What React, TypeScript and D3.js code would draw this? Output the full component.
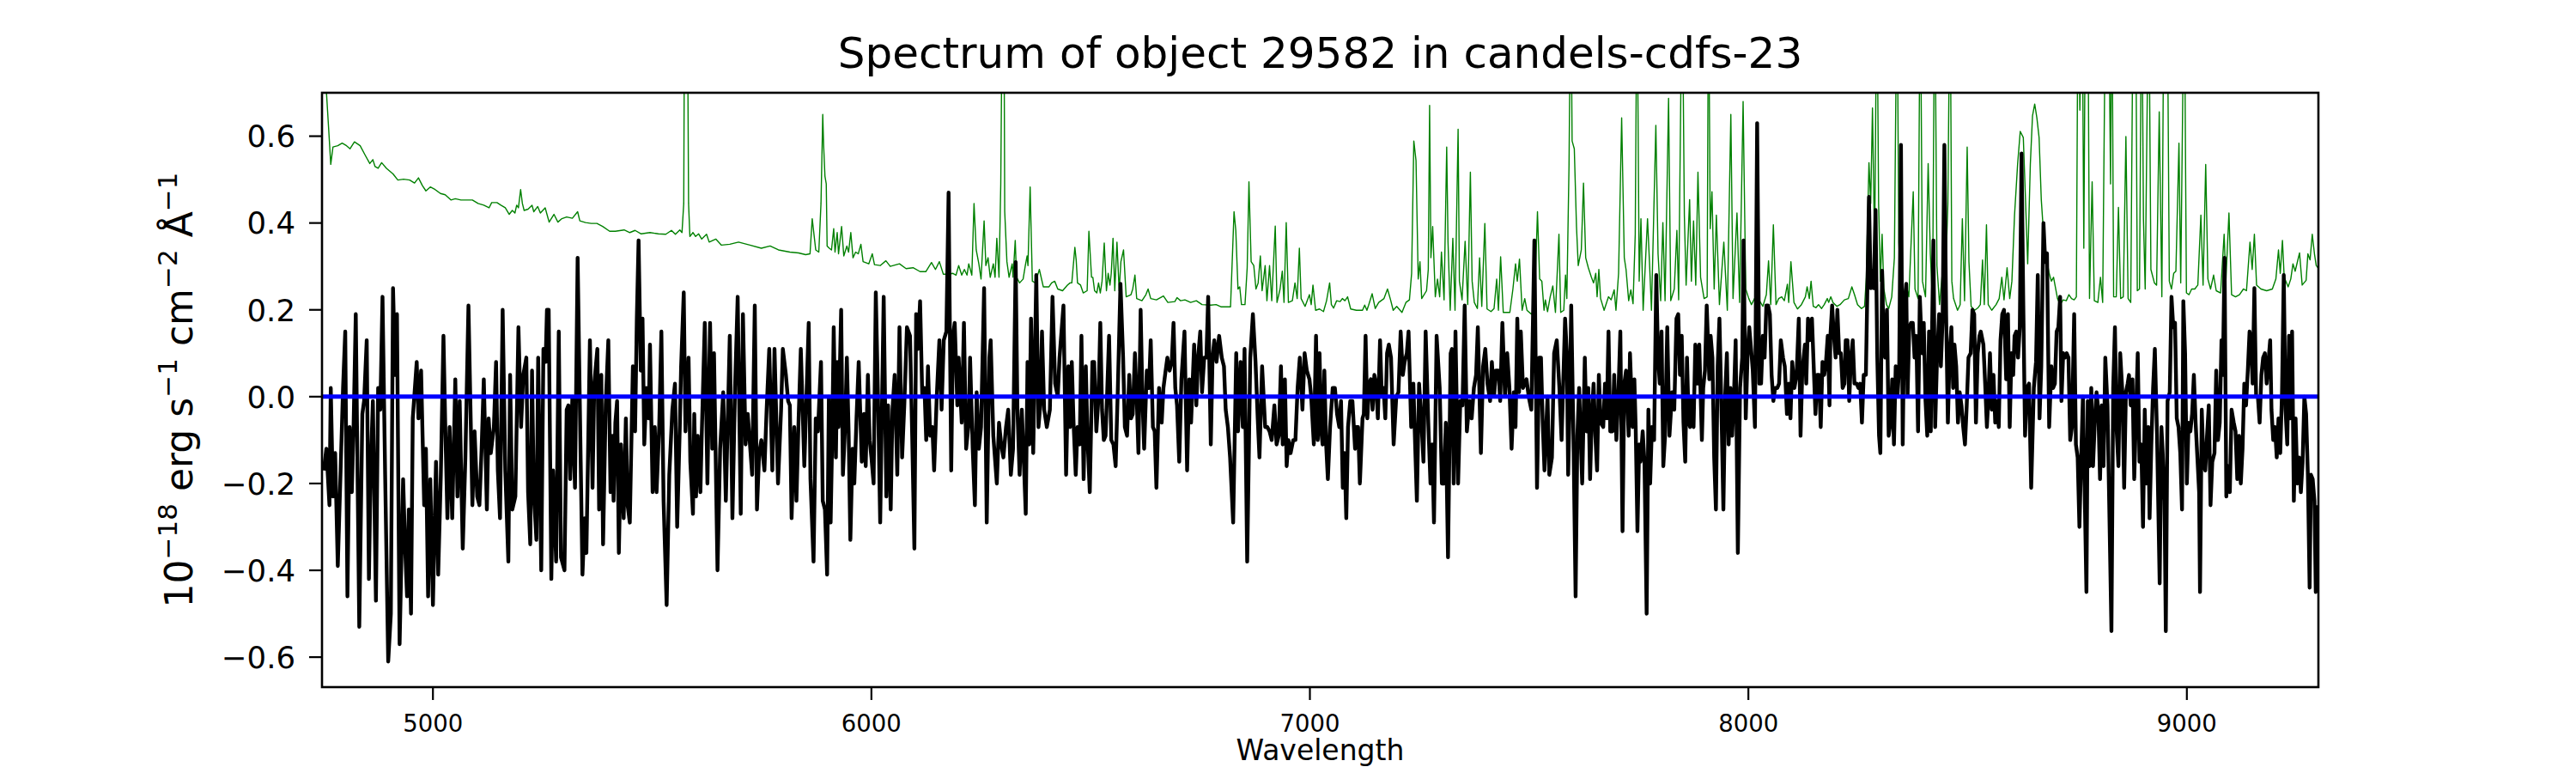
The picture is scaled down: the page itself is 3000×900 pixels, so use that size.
import React from 'react';
import * as d3 from 'd3';

const W = 3000;
const H = 900;
const plotLeft = 375;
const plotRight = 2700;
const plotTop = 108;
const plotBottom = 800;

const xDomain: [number, number] = [4747, 9300];
const yDomain: [number, number] = [-0.669, 0.7];
const xTicks = [5000, 6000, 7000, 8000, 9000];
const yTicks = [-0.6, -0.4, -0.2, 0, 0.2, 0.4, 0.6];
const titleText = 'Spectrum of object 29582 in candels-cdfs-23';
const xLabelText = 'Wavelength';
const zeroLevel = 0;

// observed flux [wavelength (Å), flux (1e-18 erg/s/cm2/Å)]
const fluxPoints: [number, number][] = [
[4751,-0.17],[4757,-0.12],[4764,-0.25],[4767,0.02],[4772,-0.23],[4777,-0.13],[4783,-0.39],[4790,-0.15],[4795,0.02],[4800,0.15],[4805,-0.46],[4810,-0.07],[4815,-0.22],[4819,-0.07],[4824,0.19],[4832,-0.53],[4839,-0.04],[4843,-0.01],[4849,0.13],[4854,-0.42],[4858,-0.17],[4863,-0.01],[4870,-0.47],[4875,0.02],[4880,-0.03],[4885,0.23],[4891,-0.18],[4898,-0.61],[4904,-0.50],[4909,0.25],[4914,0.05],[4918,0.19],[4924,-0.57],[4932,-0.19],[4937,-0.36],[4941,-0.46],[4945,-0.26],[4950,-0.50],[4954,-0.05],[4963,0.08],[4967,-0.05],[4973,0.06],[4980,-0.25],[4984,-0.12],[4989,-0.46],[4994,-0.19],[5000,-0.48],[5007,-0.15],[5012,-0.41],[5018,-0.18],[5024,0.14],[5028,-0.06],[5033,-0.28],[5038,-0.07],[5044,-0.28],[5051,0.04],[5056,-0.23],[5061,-0.01],[5068,-0.35],[5074,-0.14],[5081,0.21],[5090,-0.25],[5095,-0.08],[5101,-0.23],[5106,-0.25],[5111,-0.12],[5116,0.04],[5123,-0.26],[5127,-0.05],[5132,-0.13],[5139,-0.07],[5144,0.08],[5148,-0.17],[5153,-0.28],[5159,0.20],[5165,-0.17],[5172,-0.38],[5176,0.05],[5181,-0.26],[5188,-0.23],[5195,0.16],[5201,-0.07],[5206,0.05],[5213,0.09],[5217,-0.22],[5222,-0.34],[5226,0.06],[5230,-0.22],[5236,-0.33],[5240,0.09],[5247,-0.40],[5252,0.11],[5257,0.08],[5260,0.20],[5264,0.20],[5270,-0.42],[5274,-0.17],[5281,-0.38],[5287,0.15],[5292,-0.37],[5300,-0.40],[5305,-0.03],
[5309,-0.02],[5313,-0.19],[5318,0.00],[5324,-0.21],[5330,0.32],[5337,-0.15],[5341,-0.41],[5346,-0.28],[5350,-0.36],[5358,0.13],[5364,-0.21],[5368,0.03],[5375,0.11],[5379,-0.26],[5384,0.05],[5388,-0.34],[5394,-0.02],[5400,0.13],[5405,-0.22],[5409,-0.09],[5412,-0.24],[5416,-0.06],[5420,-0.01],[5424,-0.36],[5429,-0.11],[5435,-0.28],[5440,-0.05],[5444,-0.25],[5449,-0.29],[5456,0.07],[5461,-0.08],[5465,0.18],[5469,0.36],[5474,0.06],[5478,0.18],[5482,-0.11],[5487,0.02],[5492,-0.05],[5495,0.12],[5501,-0.22],[5506,-0.07],[5510,-0.22],[5516,-0.07],[5521,0.15],[5526,-0.24],[5533,-0.48],[5539,-0.18],[5546,-0.03],[5552,0.03],[5557,-0.30],[5563,-0.07],[5566,0.07],[5572,0.24],[5576,-0.08],[5583,0.09],[5587,-0.15],[5593,-0.27],[5596,-0.04],[5600,-0.23],[5604,-0.09],[5610,-0.22],[5613,-0.09],[5620,0.17],[5626,-0.20],[5632,0.17],[5637,-0.12],[5641,0.10],[5649,-0.40],[5655,-0.12],[5662,0.01],[5668,-0.24],[5672,-0.07],[5677,0.14],[5683,-0.28],[5689,0.02],[5695,0.23],[5702,-0.27],[5707,0.19],[5713,-0.11],[5718,-0.04],[5728,-0.18],[5734,0.21],[5739,-0.26],[5744,-0.13],[5749,-0.10],[5756,-0.17],[5761,-0.03],[5767,0.11],[5774,-0.17],[5779,0.11],[5787,-0.20],[5794,-0.03],[5798,0.11],[5805,0.05],[5810,-0.01],[5814,-0.02],[5818,-0.28],[5824,-0.07],[5829,-0.24],[5834,-0.05],[5839,0.11],[5847,-0.16],[5857,0.17],[5861,-0.19],[5868,-0.38],[5873,-0.05],
[5878,-0.08],[5885,0.08],[5889,-0.24],[5894,-0.26],[5899,-0.41],[5903,0.00],[5907,-0.29],[5911,-0.07],[5914,0.16],[5919,-0.14],[5922,0.08],[5925,-0.07],[5931,0.20],[5935,-0.18],[5940,-0.07],[5944,0.09],[5948,-0.08],[5952,-0.33],[5957,-0.12],[5961,-0.20],[5966,-0.05],[5971,0.08],[5978,-0.15],[5983,-0.04],[5987,-0.16],[5992,0.05],[5996,-0.10],[6000,-0.14],[6005,-0.20],[6010,0.24],[6015,0.00],[6020,-0.29],[6028,0.23],[6034,-0.23],[6038,-0.02],[6044,-0.26],[6048,-0.03],[6053,0.05],[6059,-0.18],[6064,0.16],[6070,-0.14],[6075,-0.02],[6081,0.16],[6088,0.14],[6093,-0.09],[6098,-0.35],[6102,0.19],[6106,0.11],[6111,0.22],[6116,0.00],[6121,0.02],[6125,-0.10],[6129,0.07],[6134,-0.09],[6139,-0.07],[6143,-0.17],[6149,0.00],[6155,0.13],[6160,-0.03],[6165,0.13],[6171,0.15],[6176,0.47],[6182,-0.17],[6186,0.14],[6190,0.17],[6196,-0.02],[6199,0.09],[6206,-0.06],[6211,0.17],[6216,-0.12],[6222,-0.06],[6225,0.09],[6231,-0.12],[6236,-0.25],[6240,0.01],[6245,-0.12],[6250,-0.07],[6257,0.25],[6263,-0.29],[6269,0.09],[6272,0.13],[6278,-0.09],[6286,-0.20],[6291,-0.06],[6296,-0.11],[6301,-0.14],[6307,-0.07],[6312,-0.03],[6318,-0.18],[6323,-0.12],[6329,0.31],[6333,-0.03],[6338,-0.18],[6343,-0.03],[6348,-0.16],[6352,-0.27],[6356,0.08],[6360,-0.11],[6364,0.18],[6369,-0.13],[6376,0.28],[6381,-0.07],[6385,-0.02],[6389,0.15],[6394,-0.03],[6400,-0.07],[6407,-0.03],[6413,0.23],[6419,0.03],[6425,0.00],[6429,0.09],[6438,0.21],
[6444,-0.18],[6449,0.07],[6453,-0.07],[6457,0.08],[6461,-0.06],[6466,-0.18],[6470,-0.07],[6475,-0.11],[6479,0.14],[6484,-0.19],[6489,0.07],[6493,-0.10],[6498,-0.22],[6504,0.08],[6508,0.08],[6513,-0.08],[6518,0.00],[6522,0.17],[6526,-0.03],[6530,-0.10],[6534,-0.09],[6538,0.02],[6542,0.14],[6547,-0.10],[6552,-0.11],[6557,-0.16],[6562,0.02],[6568,0.26],[6574,0.09],[6578,-0.07],[6583,-0.09],[6588,0.05],[6592,-0.05],[6596,-0.04],[6601,0.10],[6605,0.00],[6609,-0.13],[6614,0.20],[6618,0.00],[6622,-0.12],[6628,0.06],[6633,0.02],[6637,0.13],[6642,-0.07],[6646,-0.08],[6650,-0.21],[6656,0.02],[6662,-0.06],[6666,0.02],[6671,0.06],[6675,0.09],[6680,0.06],[6685,0.08],[6689,0.17],[6693,0.02],[6697,-0.02],[6702,-0.15],[6707,0.04],[6714,0.15],[6720,-0.17],[6725,0.04],[6729,-0.06],[6736,0.12],[6741,-0.02],[6745,0.09],[6750,0.15],[6754,0.01],[6759,0.09],[6764,0.09],[6768,0.23],[6774,-0.11],[6778,0.09],[6782,0.13],[6787,0.08],[6793,0.14],[6799,0.09],[6804,0.07],[6808,-0.03],[6813,-0.07],[6818,-0.14],[6825,-0.29],[6832,0.10],[6836,-0.08],[6842,0.08],[6847,-0.07],[6851,0.11],[6857,-0.38],[6864,0.09],[6870,0.19],[6876,0.08],[6881,-0.05],[6885,-0.14],[6891,0.07],[6898,-0.07],[6903,-0.07],[6908,-0.08],[6913,-0.10],[6919,-0.02],[6924,-0.11],[6929,-0.09],[6934,0.07],[6938,-0.11],[6943,0.04],[6947,-0.16],[6951,-0.10],[6956,-0.13],[6962,-0.10],[6967,-0.10],[6972,0.02],[6977,0.09],[6983,-0.03],[6988,0.10],[6993,0.06],[6999,0.04],[7003,0.00],[7009,-0.11],
[7014,0.14],[7018,-0.10],[7022,0.10],[7026,-0.08],[7029,-0.11],[7033,0.06],[7037,-0.11],[7041,-0.19],[7046,-0.07],[7052,0.02],[7057,0.02],[7062,-0.04],[7067,-0.07],[7071,-0.01],[7075,-0.21],[7079,-0.13],[7083,-0.28],[7087,-0.07],[7092,-0.01],[7097,-0.01],[7103,-0.12],[7106,-0.07],[7110,-0.07],[7114,-0.20],[7120,-0.05],[7123,-0.04],[7127,0.14],[7131,-0.05],[7135,0.03],[7139,0.04],[7143,-0.03],[7147,0.05],[7151,0.03],[7155,-0.05],[7160,0.13],[7164,0.00],[7168,0.02],[7172,-0.05],[7176,0.10],[7180,0.12],[7185,0.09],[7191,-0.11],[7197,0.00],[7202,0.01],[7207,0.15],[7212,0.05],[7216,0.08],[7221,0.10],[7225,0.15],[7231,-0.07],[7236,0.03],[7240,-0.11],[7244,-0.24],[7249,0.03],[7254,-0.05],[7259,-0.15],[7264,0.15],[7270,-0.06],[7275,-0.20],[7279,-0.11],[7283,-0.29],[7289,0.14],[7296,0.02],[7301,-0.20],[7306,-0.20],[7310,-0.06],[7315,-0.37],[7321,0.10],[7324,0.11],[7328,-0.20],[7332,0.15],[7338,-0.20],[7343,-0.01],[7348,-0.02],[7353,0.21],[7358,-0.08],[7364,-0.01],[7369,-0.05],[7374,0.02],[7379,0.05],[7383,0.16],[7390,-0.13],[7395,0.07],[7400,0.11],[7405,0.03],[7411,-0.01],[7415,0.08],[7420,0.00],[7424,0.06],[7430,0.06],[7434,-0.01],[7439,0.17],[7445,0.00],[7450,0.10],[7455,0.02],[7460,-0.12],[7465,0.01],[7469,-0.07],[7473,0.18],[7477,0.01],[7481,0.15],[7486,0.02],[7490,0.03],[7494,0.04],[7499,0.00],[7505,-0.03],[7512,0.36],[7518,-0.21],[7523,0.09],[7527,0.09],[7531,-0.06],[7535,-0.17],[7539,-0.07],[7542,0.00],[7546,-0.18],[7552,-0.14],[7557,0.10],[7563,0.13],[7569,0.02],[7574,-0.10],
[7582,0.18],[7586,0.10],[7589,-0.18],[7593,0.01],[7596,0.21],[7601,-0.09],[7606,-0.46],[7610,-0.09],[7614,0.02],[7618,-0.11],[7621,-0.20],[7627,0.09],[7631,-0.08],[7635,0.02],[7639,-0.19],[7643,-0.04],[7647,0.03],[7651,-0.09],[7655,-0.17],[7659,0.05],[7663,-0.06],[7669,-0.07],[7673,0.03],[7677,-0.05],[7681,0.15],[7685,-0.08],[7690,-0.08],[7694,0.05],[7699,-0.10],[7704,0.02],[7708,0.15],[7713,-0.31],[7717,0.03],[7721,0.06],[7727,-0.09],[7730,0.10],[7736,-0.07],[7740,0.04],[7743,-0.07],[7747,-0.31],[7751,-0.11],[7754,-0.15],[7759,-0.08],[7763,-0.15],[7768,-0.50],[7772,-0.03],[7776,-0.20],[7780,-0.07],[7785,-0.10],[7790,0.28],[7794,0.09],[7798,0.03],[7802,0.15],[7806,-0.16],[7810,-0.09],[7815,0.16],[7820,-0.09],[7826,0.01],[7831,-0.03],[7836,0.18],[7840,0.19],[7844,0.05],[7848,0.14],[7852,-0.06],[7856,-0.15],[7860,0.09],[7864,-0.06],[7867,-0.07],[7871,0.00],[7875,-0.07],[7879,0.12],[7884,0.03],[7888,0.12],[7894,-0.10],[7897,0.02],[7901,0.06],[7905,0.21],[7911,0.04],[7914,0.14],[7918,0.09],[7922,-0.14],[7926,-0.26],[7930,0.07],[7934,0.18],[7938,0.00],[7943,-0.26],[7947,0.00],[7951,0.10],[7955,-0.11],[7959,0.02],[7963,-0.09],[7967,0.00],[7971,0.13],[7976,-0.36],[7981,0.02],[7986,0.09],[7989,0.36],[7994,-0.05],[7998,0.09],[8002,0.16],[8007,0.10],[8010,0.06],[8015,-0.07],[8020,0.63],[8025,0.03],[8029,0.03],[8033,0.14],[8037,0.09],[8041,0.21],[8045,0.21],[8049,0.19],[8053,0.05],[8057,-0.01],[8061,0.02],[8066,0.02],[8070,0.03],[8074,0.13],[8079,0.09],[8083,0.07],[8088,-0.04],[8092,0.03],[8096,-0.05],[8100,0.08],[8105,0.02],[8110,0.05],[8115,0.18],[8119,-0.09],[8123,0.06],[8129,0.12],[8132,0.03],[8136,0.18],[8140,0.13],[8145,0.18],
[8153,-0.04],[8157,0.05],[8161,0.05],[8165,-0.07],[8169,0.08],[8173,0.05],[8177,0.08],[8181,0.14],[8185,-0.02],[8187,0.14],[8191,0.21],[8195,0.14],[8199,0.09],[8203,0.20],[8207,0.10],[8211,0.10],[8215,0.02],[8219,0.03],[8222,0.13],[8226,0.13],[8230,-0.01],[8234,0.09],[8238,0.13],[8242,0.03],[8247,0.03],[8251,0.02],[8255,0.03],[8259,-0.06],[8263,0.05],[8268,0.05],[8275,0.46],[8279,0.25],[8282,0.29],[8286,0.25],[8290,0.43],[8294,0.09],[8298,-0.09],[8301,-0.13],[8305,0.29],[8309,0.10],[8312,0.09],[8316,0.20],[8320,-0.09],[8324,-0.06],[8328,0.04],[8332,-0.11],[8336,0.07],[8340,0.00],[8344,0.07],[8348,0.58],[8352,-0.11],[8356,0.21],[8360,0.26],[8363,0.00],[8367,0.16],[8371,0.17],[8375,0.17],[8379,0.09],[8383,0.14],[8387,-0.08],[8391,0.23],[8396,0.10],[8400,0.17],[8404,-0.01],[8408,-0.09],[8412,0.15],[8416,-0.08],[8418,0.09],[8422,0.36],[8426,-0.07],[8430,0.08],[8435,0.19],[8439,0.07],[8443,0.18],[8447,0.58],[8451,0.19],[8455,-0.06],[8459,0.10],[8463,0.16],[8467,0.02],[8470,0.12],[8474,0.07],[8478,-0.06],[8482,0.01],[8486,-0.02],[8490,-0.07],[8494,-0.11],[8498,-0.02],[8502,0.09],[8507,0.10],[8511,0.20],[8515,0.19],[8519,-0.06],[8523,0.10],[8527,0.14],[8530,0.15],[8536,0.12],[8540,0.03],[8544,-0.07],[8547,-0.01],[8551,0.10],[8555,-0.03],[8559,0.05],[8563,-0.06],[8567,-0.01],[8571,-0.07],[8575,0.13],[8579,0.19],[8583,0.20],[8588,0.04],[8592,0.19],[8596,-0.07],[8600,0.10],[8604,0.05],[8607,0.14],[8611,0.15],[8615,0.09],[8619,0.16],[8623,0.56],[8627,0.21],[8631,-0.09],[8635,0.02],[8640,0.03],[8645,-0.21],[8651,0.02],[8656,0.08],[8660,0.28],[8664,-0.05],[8668,0.07],[8673,0.40],[8677,0.31],[8681,0.33],[8686,-0.07],[8691,0.07],[8695,0.02],[8699,0.03],[8703,0.15],[8707,0.16],[8711,0.23],
[8714,-0.01],[8718,0.10],[8722,0.09],[8726,0.10],[8730,0.09],[8734,-0.10],[8738,-0.07],[8743,0.19],[8747,-0.11],[8751,-0.14],[8755,-0.30],[8759,-0.14],[8763,0.00],[8767,-0.22],[8771,-0.45],[8774,-0.01],[8778,-0.16],[8782,0.02],[8786,-0.16],[8790,-0.06],[8794,0.01],[8798,-0.03],[8802,-0.19],[8806,-0.02],[8810,-0.16],[8814,0.09],[8819,-0.02],[8823,-0.25],[8828,-0.54],[8832,0.02],[8836,0.16],[8840,-0.08],[8844,-0.16],[8848,0.10],[8853,0.01],[8857,-0.21],[8861,0.01],[8865,0.03],[8868,0.05],[8872,-0.02],[8876,0.04],[8880,-0.19],[8884,-0.04],[8888,0.10],[8892,-0.15],[8896,-0.11],[8900,-0.30],[8904,-0.03],[8908,-0.20],[8912,-0.07],[8915,-0.28],[8919,-0.11],[8923,0.02],[8927,0.11],[8932,-0.09],[8938,-0.43],[8942,-0.07],[8945,-0.13],[8949,-0.24],[8952,-0.54],[8956,-0.01],[8961,0.01],[8965,0.23],[8969,0.16],[8973,0.17],[8977,-0.05],[8981,-0.07],[8985,-0.13],[8989,-0.26],[8992,0.22],[8996,0.10],[9000,-0.20],[9004,-0.06],[9008,-0.08],[9012,-0.04],[9016,0.05],[9020,-0.06],[9024,-0.14],[9028,-0.22],[9030,-0.45],[9034,-0.03],[9038,-0.15],[9042,-0.17],[9046,-0.09],[9050,-0.02],[9054,-0.25],[9058,-0.15],[9063,-0.13],[9067,0.06],[9071,-0.10],[9075,-0.06],[9079,0.13],[9082,0.05],[9086,0.32],[9090,-0.23],[9094,-0.16],[9098,-0.22],[9102,-0.03],[9107,-0.06],[9111,-0.08],[9115,-0.19],[9119,-0.09],[9123,-0.20],[9127,-0.12],[9131,0.03],[9135,-0.02],[9139,0.06],[9143,0.15],[9146,0.13],[9150,0.03],[9154,0.25],[9158,0.00],[9162,0.00],[9166,-0.06],[9170,0.05],[9174,0.09],[9178,0.10],[9182,0.03],[9186,0.08],[9190,0.13],[9193,-0.03],[9197,-0.10],[9201,-0.07],[9205,-0.14],[9209,-0.05],[9213,-0.13],[9217,0.01],[9221,0.28],[9225,-0.03],[9229,-0.11],[9233,0.14],[9236,-0.05],[9240,0.15],[9244,-0.24],[9248,-0.05],[9252,-0.20],[9256,-0.14],[9260,-0.22],[9264,-0.15],[9268,0.00],[9272,-0.04],[9276,-0.18],[9280,-0.44],[9283,-0.18],[9287,-0.19],[9291,-0.24],[9294,-0.45],[9299,-0.25]
];

// noise / sky spectrum [wavelength (Å), value]
const noisePoints: [number, number][] = [
[4748,1.0],[4756,0.72],[4762,0.62],[4767,0.535],[4772,0.575],[4783,0.578],[4793,0.584],[4803,0.578],[4811,0.571],[4821,0.587],[4834,0.578],[4845,0.557],[4856,0.537],[4863,0.546],[4868,0.530],[4875,0.526],[4883,0.539],[4894,0.526],[4909,0.513],[4920,0.499],[4933,0.501],[4947,0.499],[4958,0.492],[4967,0.504],[4976,0.486],[4984,0.474],[4994,0.483],[5005,0.477],[5017,0.468],[5028,0.465],[5041,0.453],[5051,0.456],[5064,0.453],[5077,0.453],[5090,0.453],[5103,0.445],[5116,0.441],[5128,0.435],[5134,0.447],[5146,0.447],[5155,0.441],[5165,0.435],[5174,0.420],[5181,0.429],[5187,0.423],[5191,0.441],[5195,0.435],[5200,0.477],[5204,0.445],[5208,0.429],[5217,0.432],[5226,0.441],[5230,0.426],[5239,0.438],[5245,0.423],[5256,0.435],[5265,0.402],[5276,0.420],[5285,0.402],[5294,0.410],[5305,0.414],
[5318,0.411],[5330,0.426],[5335,0.405],[5348,0.401],[5361,0.399],[5374,0.399],[5387,0.392],[5403,0.381],[5416,0.381],[5436,0.384],[5449,0.378],[5461,0.383],[5475,0.375],[5495,0.378],[5514,0.375],[5531,0.374],[5544,0.383],[5553,0.374],[5563,0.384],[5568,0.378],[5572,0.445],[5574,1.0],[5580,1.0],[5583,0.445],[5586,0.369],[5593,0.378],[5599,0.369],[5606,0.375],[5613,0.363],[5624,0.374],[5630,0.356],[5645,0.363],[5658,0.349],[5677,0.351],[5697,0.356],[5723,0.349],[5749,0.342],[5769,0.347],[5788,0.338],[5814,0.333],[5834,0.331],[5850,0.327],[5860,0.329],[5865,0.410],[5870,0.365],
[5873,0.338],[5880,0.333],[5885,0.445],[5889,0.650],[5891,0.580],[5894,0.508],[5897,0.490],[5899,0.347],[5904,0.342],[5909,0.338],[5914,0.387],[5917,0.333],[5922,0.378],[5925,0.329],[5932,0.392],[5937,0.324],[5944,0.347],[5948,0.333],[5953,0.378],[5958,0.320],[5964,0.333],[5970,0.329],[5976,0.351],[5981,0.311],[5994,0.306],[6002,0.329],[6007,0.304],[6020,0.302],[6033,0.313],[6043,0.300],[6064,0.306],[6079,0.295],[6095,0.297],[6111,0.288],[6124,0.288],[6137,0.309],[6146,0.293],[6155,0.311],[6164,0.282],[6173,0.282],[6186,0.284],[6193,0.280],[6199,0.302],[6206,0.280],[6212,0.293],[6218,0.280],[6222,0.306],[6229,0.280],[6234,0.445],[6239,0.338],[6245,0.306],[6250,0.271],[6257,0.405],[6261,0.302],[6266,0.320],[6271,0.275],[6278,0.306],[6282,0.275],[6286,0.365],[6291,0.275],[6295,0.490],[6299,1.0],[6302,1.0],[6304,0.427],[6309,0.311],[6314,0.275],[6321,0.306],[6323,0.275],[6328,0.360],[6331,0.275],[6338,0.262],[6346,0.271],[6351,0.302],[6355,0.324],[6357,0.302],[6362,0.483],[6367,0.266],[6374,0.262],[6383,0.293],[6392,0.253],[6405,0.253],[6411,0.262],[6418,0.266],[6425,0.248],[6436,0.244],
[6447,0.257],[6453,0.262],[6457,0.262],[6464,0.344],[6467,0.315],[6470,0.262],[6477,0.257],[6483,0.239],[6492,0.244],[6496,0.381],[6502,0.275],[6505,0.275],[6509,0.244],[6514,0.239],[6518,0.262],[6522,0.239],[6526,0.266],[6531,0.354],[6536,0.244],[6540,0.284],[6544,0.257],[6547,0.284],[6551,0.365],[6555,0.244],[6560,0.356],[6565,0.244],[6569,0.311],[6575,0.338],[6581,0.230],[6592,0.235],[6596,0.248],[6601,0.280],[6605,0.226],[6617,0.221],[6626,0.235],[6631,0.248],[6637,0.226],[6650,0.223],[6666,0.232],[6676,0.217],[6692,0.219],[6697,0.228],[6705,0.221],[6715,0.223],[6728,0.217],[6741,0.221],[6754,0.212],[6774,0.211],[6786,0.212],[6797,0.207],[6819,0.207],[6827,0.426],[6831,0.383],[6836,0.248],[6840,0.253],[6844,0.212],[6852,0.212],[6857,0.297],[6861,0.495],[6866,0.311],[6872,0.302],[6877,0.248],[6882,0.262],[6887,0.324],[6891,0.244],[6898,0.302],[6902,0.221],[6908,0.302],[6913,0.221],[6921,0.393],[6925,0.217],[6932,0.248],[6937,0.289],[6941,0.217],[6946,0.401],[6951,0.217],[6960,0.221],[6966,0.262],[6971,0.226],[6976,0.342],[6980,0.226],[6989,0.208],[6999,0.235],[7003,0.212],[7007,0.257],
[7013,0.199],[7022,0.202],[7031,0.196],[7038,0.221],[7045,0.262],[7049,0.212],[7054,0.204],[7061,0.221],[7069,0.219],[7074,0.226],[7080,0.221],[7086,0.230],[7093,0.202],[7106,0.199],[7120,0.199],[7125,0.211],[7130,0.199],[7134,0.211],[7142,0.237],[7149,0.203],[7157,0.217],[7169,0.226],[7177,0.248],[7184,0.223],[7190,0.199],[7198,0.208],[7210,0.194],[7219,0.217],[7227,0.223],[7232,0.284],[7237,0.589],[7242,0.544],[7247,0.271],[7251,0.311],[7255,0.226],[7266,0.244],[7270,0.293],[7273,0.671],[7276,0.320],[7280,0.392],[7286,0.230],[7291,0.271],[7296,0.230],[7300,0.333],[7306,0.223],[7312,0.575],[7315,0.356],[7320,0.199],[7326,0.365],[7331,0.199],[7338,0.616],[7341,0.266],[7347,0.223],[7354,0.358],[7360,0.212],[7366,0.517],[7370,0.266],[7375,0.217],[7382,0.203],[7387,0.320],[7392,0.208],[7399,0.399],[7404,0.202],[7413,0.196],[7420,0.203],[7426,0.271],[7430,0.199],[7435,0.322],[7441,0.194],[7456,0.194],[7463,0.248],[7469,0.306],[7473,0.266],[7478,0.317],[7484,0.199],[7490,0.226],[7495,0.199],[7505,0.190],[7512,0.199],[7519,0.426],[7524,0.271],[7529,0.266],[7534,0.199],[7537,0.223],[7542,0.196],[7548,0.230],[7554,0.255],[7560,0.194],[7568,0.374],[7572,0.194],
[7579,0.199],[7583,0.280],[7586,0.226],[7591,0.535],[7595,1.0],[7598,0.589],[7603,0.571],[7608,0.392],[7612,0.302],[7619,0.338],[7624,0.492],[7629,0.320],[7635,0.297],[7642,0.275],[7647,0.262],[7652,0.284],[7655,0.230],[7659,0.293],[7663,0.226],[7671,0.199],[7681,0.230],[7687,0.223],[7694,0.246],[7698,0.199],[7704,0.284],[7711,0.642],[7717,0.320],[7721,0.293],[7727,0.221],[7732,0.246],[7737,0.214],[7742,0.374],[7746,1.0],[7751,0.266],[7755,0.410],[7760,0.199],[7770,0.410],[7775,0.297],[7779,0.199],[7789,0.625],[7794,0.329],[7800,0.221],[7805,0.401],[7810,0.221],[7818,0.687],[7823,0.221],[7831,0.248],[7837,0.383],[7841,0.223],[7849,1.0],[7854,0.418],[7858,0.257],[7866,0.454],[7870,0.266],[7875,0.405],[7880,0.257],[7885,0.517],[7891,0.275],[7899,0.226],[7906,0.230],[7909,1.0],[7913,0.387],[7917,0.472],[7922,0.248],[7927,0.418],[7934,0.212],[7944,0.356],[7952,0.199],[7960,0.650],[7965,0.226],[7974,0.423],[7980,0.217],[7988,0.680],[7994,0.248],[8001,0.226],[8007,0.212],[8014,0.226],[8020,0.230],[8033,0.208],[8041,0.235],[8046,0.313],[8051,0.212],[8057,0.396],[8063,0.212],[8069,0.226],[8076,0.230],[8082,0.221],[8089,0.259],[8092,0.217],[8097,0.311],[8104,0.217],[8112,0.202],[8121,0.212],[8130,0.230],[8134,0.253],[8139,0.226],[8143,0.266],
[8148,0.208],[8154,0.205],[8160,0.212],[8167,0.203],[8173,0.212],[8180,0.226],[8183,0.217],[8188,0.230],[8193,0.217],[8202,0.208],[8209,0.212],[8219,0.223],[8228,0.226],[8236,0.253],[8242,0.235],[8249,0.212],[8258,0.203],[8265,0.208],[8269,0.275],[8275,0.539],[8279,0.445],[8283,0.665],[8288,0.338],[8293,1.0],[8297,0.445],[8301,0.266],[8305,0.374],[8309,0.248],[8315,0.212],[8320,0.203],[8327,0.230],[8333,0.320],[8339,1.0],[8343,0.356],[8348,0.248],[8354,0.226],[8359,0.262],[8366,0.230],[8376,0.472],[8380,0.248],[8387,0.226],[8392,1.0],[8397,0.266],[8404,0.230],[8410,0.537],[8415,0.329],[8420,0.212],[8425,1.0],[8430,0.302],[8436,0.212],[8443,0.293],[8448,0.221],[8455,0.445],[8460,1.0],[8464,0.266],[8468,0.226],[8477,0.199],[8483,0.212],[8488,0.410],[8493,0.221],[8499,0.575],[8503,0.311],[8508,0.208],[8516,0.199],[8524,0.205],[8529,0.212],[8534,0.315],[8538,0.212],[8543,0.396],[8547,0.212],[8555,0.199],[8565,0.212],[8572,0.226],[8578,0.275],[8583,0.223],[8590,0.297],[8596,0.226],[8601,0.266],[8607,0.418],[8614,0.535],[8620,0.611],[8627,0.597],[8632,0.454],[8637,0.306],[8643,0.535],[8648,0.647],[8653,0.674],[8658,0.642],[8663,0.597],[8668,0.454],[8673,0.378],[8679,0.324],[8686,0.284],[8691,0.266],[8696,0.275],[8700,0.253],[8705,0.226],[8711,0.212],
[8718,0.223],[8725,0.221],[8731,0.235],[8737,0.226],[8743,0.223],[8748,0.230],[8752,1.0],[8756,0.660],[8761,1.0],[8765,0.342],[8769,1.0],[8774,1.0],[8778,0.226],[8784,0.495],[8789,0.221],[8797,0.217],[8803,0.275],[8808,0.217],[8815,1.0],[8821,1.0],[8826,0.490],[8829,1.0],[8833,0.230],[8839,0.230],[8844,0.436],[8849,0.226],[8855,0.230],[8861,0.599],[8866,0.226],[8872,0.217],[8878,1.0],[8883,1.0],[8887,0.244],[8892,0.248],[8897,1.0],[8901,0.410],[8905,0.248],[8913,1.0],[8918,0.293],[8926,0.262],[8931,0.257],[8937,0.656],[8943,0.230],[8948,1.0],[8955,1.0],[8960,0.266],[8965,0.248],[8970,0.284],[8975,0.289],[8982,0.584],[8986,0.262],[8994,1.0],[8999,0.239],[9005,0.235],[9011,0.248],[9018,0.248],[9025,0.257],[9032,0.418],[9037,0.257],[9043,0.535],[9048,0.271],[9054,0.248],[9061,0.280],[9067,0.244],[9077,0.239],[9085,0.374],[9089,0.266],[9096,0.423],[9102,0.235],[9111,0.230],[9120,0.235],[9129,0.248],[9136,0.244],[9144,0.356],[9149,0.293],[9154,0.374],[9159,0.257],[9169,0.248],[9182,0.244],[9195,0.248],[9203,0.271],[9209,0.338],[9213,0.284],[9218,0.360],[9222,0.275],[9231,0.253],[9237,0.271],[9242,0.306],[9247,0.289],[9257,0.331],[9263,0.257],[9272,0.268],[9276,0.329],[9281,0.315],[9286,0.374],[9291,0.329],[9295,0.302],[9299,0.297]
];

const FONT = '"DejaVu Sans", sans-serif';

export default function App() {
  const x = d3.scaleLinear().domain(xDomain).range([plotLeft, plotRight]);
  const y = d3.scaleLinear().domain(yDomain).range([plotBottom, plotTop]);
  const line = d3
    .line<[number, number]>()
    .x((d) => x(d[0]))
    .y((d) => y(d[1]));
  const fmtY = d3.format('.1f');
  const cx = (plotLeft + plotRight) / 2;
  const cy = (plotTop + plotBottom) / 2;
  const supSize = 31;
  const supShift = 18;

  return (
    <div style={{ position: 'absolute', left: 0, top: 0 }}>
      <svg width={W} height={H} viewBox={`0 0 ${W} ${H}`} style={{ display: 'block', background: '#fff' }}>
        <defs>
          <clipPath id="plotClip">
            <rect x={plotLeft} y={plotTop} width={plotRight - plotLeft} height={plotBottom - plotTop} />
          </clipPath>
        </defs>
        <rect x={0} y={0} width={W} height={H} fill="#fff" />
        <g clipPath="url(#plotClip)">
          <path d={line(noisePoints) || ''} fill="none" stroke="#008000" strokeWidth={1.4} strokeLinejoin="round" />
          <path d={line(fluxPoints) || ''} fill="none" stroke="#000" strokeWidth={4.4} strokeLinejoin="round" />
          <line x1={x(xDomain[0])} x2={x(xDomain[1])} y1={y(zeroLevel)} y2={y(zeroLevel)} stroke="#0000ff" strokeWidth={5} />
        </g>
        <rect
          x={plotLeft}
          y={plotTop}
          width={plotRight - plotLeft}
          height={plotBottom - plotTop}
          fill="none"
          stroke="#000"
          strokeWidth={2.6}
        />
        {xTicks.map((t) => (
          <g key={`xt${t}`}>
            <line x1={x(t)} x2={x(t)} y1={plotBottom} y2={plotBottom + 15} stroke="#000" strokeWidth={2.2} />
            <text x={x(t)} y={852} textAnchor="middle" fontFamily={FONT} fontSize={27.5} fill="#000">
              {t}
            </text>
          </g>
        ))}
        {yTicks.map((t) => (
          <g key={`yt${t}`}>
            <line x1={plotLeft - 15} x2={plotLeft} y1={y(t)} y2={y(t)} stroke="#000" strokeWidth={2.2} />
            <text x={344} y={y(t) + 12.8} textAnchor="end" fontFamily={FONT} fontSize={35.5} fill="#000">
              {fmtY(t)}
            </text>
          </g>
        ))}
        <text x={cx} y={79} textAnchor="middle" fontFamily={FONT} fontSize={50} fill="#000">
          {titleText}
        </text>
        <text x={cx} y={885} textAnchor="middle" fontFamily={FONT} fontSize={33} fill="#000">
          {xLabelText}
        </text>
        <text
          transform={`translate(224,${cy}) rotate(-90)`}
          textAnchor="middle"
          fontFamily={FONT}
          fontSize={44}
          fill="#000"
        >
          <tspan>10</tspan>
          <tspan fontSize={supSize} dy={-supShift}>{'\u221218'}</tspan>
          <tspan dy={supShift}>{' erg s'}</tspan>
          <tspan fontSize={supSize} dy={-supShift}>{'\u22121'}</tspan>
          <tspan dy={supShift}>{' cm'}</tspan>
          <tspan fontSize={supSize} dy={-supShift}>{'\u22122'}</tspan>
          <tspan dy={supShift}>{' \u00C5'}</tspan>
          <tspan fontSize={supSize} dy={-supShift}>{'\u22121'}</tspan>
        </text>
      </svg>
    </div>
  );
}
